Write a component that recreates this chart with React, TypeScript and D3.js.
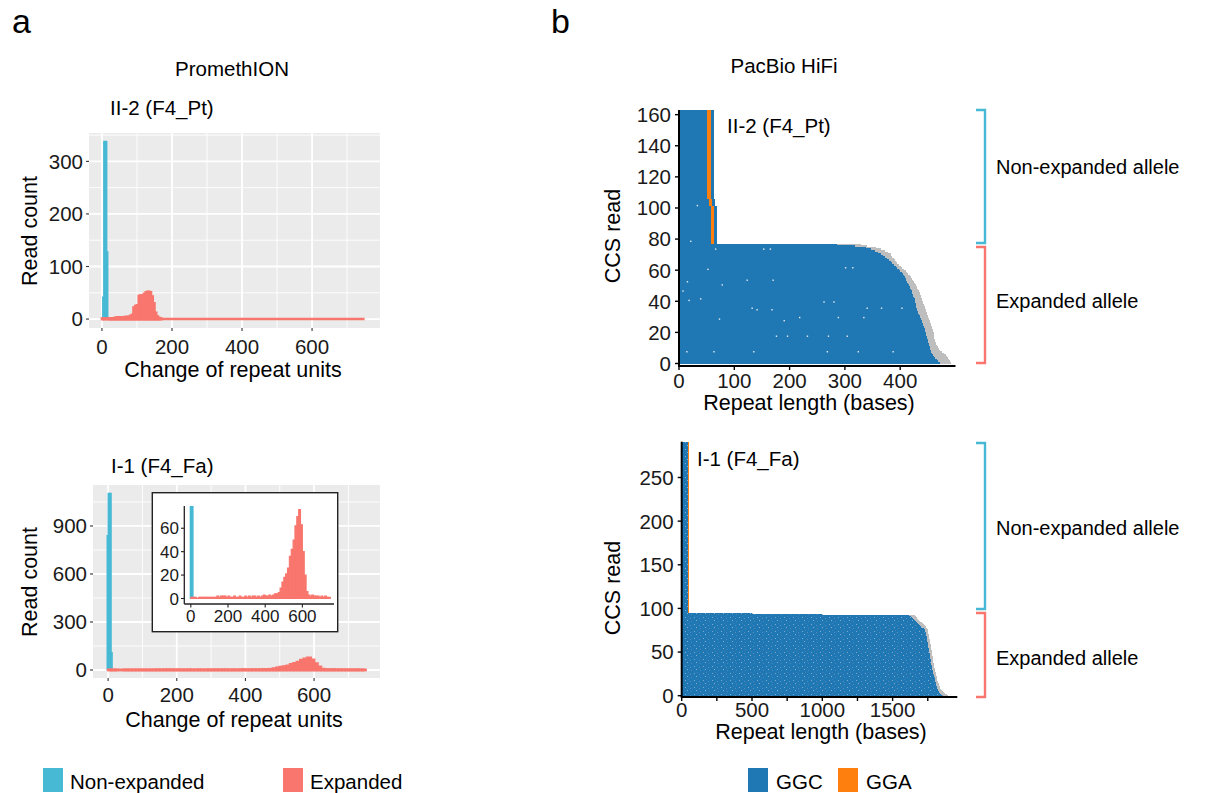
import React from "react";
import * as d3 from "d3";

const FONT = "'Liberation Sans', Arial, Helvetica, sans-serif";
const CYAN = "#47B9D4";
const RED = "#F8766D";
const BLUE = "#1F77B4";
const ORANGE = "#FF7F0E";
const GRAY = "#BEBEBE";
const PANEL_BG = "#EBEBEB";

// ---------------- a: PromethION histograms ----------------
const repeatTicks = [0, 200, 400, 600];
const repeatMinorTicks = [100, 300, 500, 700];
const ptCountTicks = [0, 100, 200, 300];
const ptCountMinor = [50, 150, 250, 350];
const faCountTicks = [0, 300, 600, 900];
const faCountMinor = [150, 450, 750, 1050];
const insetCountTicks = [0, 20, 40, 60];
const histMax = 750;

// II-2 (F4_Pt)
const ptNonExpStart = 2;
const ptNonExpWidth = 3;
const ptNonExpCounts = [42, 338, 338, 338, 128];
const ptExpWidth = 5;
const ptExpCounts = [
  1, 1, 0, 1, 1, 1, 1, 2, 3, 3, 3, 3, 3, 4, 4, 4, 6, 8, 22, 25,
  26, 44, 45, 30, 48, 51, 52, 51, 43, 30, 12, 5, 2, 1,
];

// I-1 (F4_Fa)
const faNonExpStart = -3;
const faNonExpWidth = 3;
const faNonExpCounts = [840, 1104, 1104, 1104, 110];
const faExpWidth = 10;
const faExpCounts = [
  1, 1, 1, 0, 1, 1, 1, 1, 1, 1,
  1, 1, 1, 1, 2, 1, 2, 2, 2, 1,
  2, 1, 1, 2, 1, 1, 2, 1, 1, 2,
  1, 2, 1, 2, 2, 1, 2, 1, 2, 3,
  2, 2, 3, 2, 3, 4, 4, 5, 9, 14,
  18, 21, 26, 36, 42, 50, 62, 70, 76, 63,
  40, 20, 6, 3, 2, 3, 2, 2, 2, 1,
  2, 1, 2, 1, 1,
];

// ---------------- b: PacBio HiFi read plots ----------------
// II-2 (F4_Pt): 163 CCS reads; reads 0..76 expanded (sorted longest first)
const ptReadCount = 163;
const ptLengthTicks = [0, 100, 200, 300, 400];
const ptReadTicks = [0, 20, 40, 60, 80, 100, 120, 140, 160];
const ptGgcEnd = [
  472, 468, 466, 463, 461, 459, 457, 456, 455, 454, 453, 452, 452, 451, 450, 450,
  449, 448, 447, 446, 445, 445, 444, 443, 442, 441, 440, 439, 437, 436, 435, 434,
  433, 432, 431, 430, 429, 428, 428, 427, 426, 426, 425, 424, 423, 422, 421, 420,
  418, 417, 416, 414, 413, 411, 410, 408, 407, 405, 403, 400, 397, 395, 392, 389,
  386, 383, 380, 377, 372, 368, 365, 360, 355, 348, 338, 318, 285,
];
const ptReadEnd = [
  492, 490, 488, 486, 484, 482, 480, 476, 472, 470, 468, 466, 465, 464, 463, 463,
  462, 462, 461, 461, 460, 459, 458, 457, 456, 455, 454, 453, 452, 451, 450, 449,
  448, 447, 446, 445, 444, 443, 442, 441, 440, 439, 438, 437, 436, 435, 434, 433,
  431, 430, 428, 427, 425, 423, 421, 419, 417, 415, 413, 410, 407, 404, 401, 398,
  395, 392, 390, 388, 386, 384, 383, 378, 372, 365, 356, 340, 330,
];
// non-expanded read groups: first read of group, GGA interruption start/end, read end
const ptNonExpFirstRead = [77, 101, 106];
const ptNonExpGgaStart = [57, 54, 51];
const ptNonExpGgaEnd = [63, 60, 57];
const ptNonExpReadEnd = [69, 66, 64];
// scattered mismatches inside the GGC tract (base, read)
const ptMismatchBase = [32, 20, 14, 6, 17, 51, 65, 77, 122, 131, 140, 152, 164, 167, 169, 72, 189, 175, 195, 217, 231, 261, 269, 279, 287, 303, 300, 313, 323, 339, 333, 365, 386, 402, 13, 62, 134, 267, 38];
const ptMismatchRead = [101, 78, 52, 46, 40, 60, 73, 50, 53, 35, 34, 73, 73, 34, 53, 28, 27, 17, 17, 29, 17, 39, 17, 39, 29, 17, 61, 61, 7, 35, 29, 35, 7, 35, 7, 7, 7, 7, 41];

// I-1 (F4_Fa): 291 CCS reads; reads 0..94 expanded
const faReadCount = 291;
const faLengthTicks = [0, 500, 1000, 1500];
const faLengthMinor = [250, 750, 1250, 1750];
const faReadTicks = [0, 50, 100, 150, 200, 250];
const faGgcEnd = [
  1858, 1846, 1838, 1833, 1829, 1826, 1824, 1821, 1818, 1816, 1814, 1812, 1810, 1808, 1807, 1805,
  1804, 1802, 1801, 1799, 1798, 1796, 1795, 1793, 1792, 1790, 1789, 1787, 1786, 1784, 1783, 1782,
  1780, 1779, 1778, 1776, 1775, 1774, 1773, 1772, 1771, 1770, 1769, 1768, 1767, 1766, 1765, 1764,
  1763, 1762, 1761, 1760, 1758, 1757, 1756, 1755, 1754, 1753, 1752, 1751, 1750, 1749, 1748, 1746,
  1745, 1744, 1743, 1742, 1740, 1739, 1737, 1736, 1734, 1732, 1731, 1729, 1724, 1717, 1709, 1701,
  1694, 1688, 1682, 1676, 1670, 1664, 1658, 1652, 1645, 1638, 1630, 1620, 1605, 1000, 500,
];
const faReadEnd = [
  1895, 1885, 1875, 1865, 1858, 1852, 1848, 1844, 1840, 1837, 1834, 1831, 1829, 1827, 1825, 1823,
  1821, 1819, 1818, 1816, 1815, 1813, 1812, 1810, 1809, 1807, 1806, 1804, 1803, 1801, 1800, 1799,
  1797, 1796, 1795, 1793, 1792, 1791, 1790, 1789, 1788, 1787, 1786, 1785, 1784, 1783, 1782, 1781,
  1780, 1779, 1778, 1777, 1776, 1775, 1774, 1773, 1772, 1771, 1770, 1769, 1768, 1767, 1766, 1764,
  1763, 1762, 1761, 1760, 1758, 1757, 1756, 1755, 1753, 1752, 1751, 1750, 1748, 1745, 1740, 1735,
  1728, 1722, 1716, 1710, 1704, 1697, 1690, 1683, 1676, 1670, 1663, 1656, 1645, 1008, 508,
];
const faNonExpFirstRead = [95];
const faNonExpGgaStart = [47];
const faNonExpGgaEnd = [54];
const faNonExpReadEnd = [54];

// ---------------- helpers ----------------
type Bin = { x0: number; x1: number; c: number };
function makeBins(start: number, width: number, counts: number[], padTo?: number): Bin[] {
  const n = padTo !== undefined ? Math.ceil((padTo - start) / width) : counts.length;
  return d3.range(n).map((i) => ({ x0: start + i * width, x1: start + (i + 1) * width, c: counts[i] ?? 0 }));
}

function barPath(b: Bin, x: d3.ScaleLinear<number, number>, y: d3.ScaleLinear<number, number>) {
  const x0 = x(b.x0), x1 = x(b.x1), y0 = y(0), y1 = y(b.c);
  return `M${x0},${y0}H${x1}V${y1}H${x0}Z`;
}

const tickText = { fontFamily: FONT, fontSize: 20.5, fill: "#1a1a1a" } as const;
const titleText = { fontFamily: FONT, fontSize: 21.5, fill: "#000" } as const;

function Bars(props: { bins: Bin[]; x: d3.ScaleLinear<number, number>; y: d3.ScaleLinear<number, number>; color: string; sw: number }) {
  const { bins, x, y, color, sw } = props;
  const nz = bins.filter((b) => b.c > 0);
  return (
    <g>
      <line x1={x(bins[0].x0)} x2={x(bins[bins.length - 1].x1)} y1={y(0)} y2={y(0)} stroke={color} strokeWidth={sw} />
      {nz.map((b, i) => (
        <path key={i} d={barPath(b, x, y)} fill={color} stroke={color} strokeWidth={sw} strokeLinejoin="miter" />
      ))}
    </g>
  );
}

function HistPanel(props: {
  x: d3.ScaleLinear<number, number>;
  y: d3.ScaleLinear<number, number>;
  yTicks: number[];
  yMinor: number[];
  nonExp: Bin[];
  exp: Bin[];
  labelBaseline: number;
  id: string;
}) {
  const { x, y, yTicks, yMinor, nonExp, exp, labelBaseline, id } = props;
  const [x0, x1] = x.range();
  const [yb, yt] = y.range();
  return (
    <g>
      <defs>
        <clipPath id={id}>
          <rect x={x0} y={yt} width={x1 - x0} height={yb - yt} />
        </clipPath>
      </defs>
      <rect x={x0} y={yt} width={x1 - x0} height={yb - yt} fill={PANEL_BG} />
      {yMinor.map((t) => (
        <line key={"ym" + t} x1={x0} x2={x1} y1={y(t)} y2={y(t)} stroke="#fff" strokeWidth={0.9} />
      ))}
      {repeatMinorTicks.map((t) => (
        <line key={"xm" + t} x1={x(t)} x2={x(t)} y1={yt} y2={yb} stroke="#fff" strokeWidth={0.9} />
      ))}
      {yTicks.map((t) => (
        <line key={"yM" + t} x1={x0} x2={x1} y1={y(t)} y2={y(t)} stroke="#fff" strokeWidth={1.8} />
      ))}
      {repeatTicks.map((t) => (
        <line key={"xM" + t} x1={x(t)} x2={x(t)} y1={yt} y2={yb} stroke="#fff" strokeWidth={1.8} />
      ))}
      <g clipPath={`url(#${id})`}>
        <Bars bins={nonExp} x={x} y={y} color={CYAN} sw={1.1} />
        <Bars bins={exp} x={x} y={y} color={RED} sw={2.6} />
      </g>
      {yTicks.map((t) => (
        <g key={"yt" + t}>
          <line x1={x0 - 3} x2={x0} y1={y(t)} y2={y(t)} stroke="#333" strokeWidth={1.1} />
          <text x={x0 - 6} y={y(t)} dy="0.36em" textAnchor="end" {...tickText}>{t}</text>
        </g>
      ))}
      {repeatTicks.map((t) => (
        <g key={"xt" + t}>
          <line x1={x(t)} x2={x(t)} y1={yb} y2={yb + 3} stroke="#333" strokeWidth={1.1} />
          <text x={x(t)} y={labelBaseline} textAnchor="middle" {...tickText}>{t}</text>
        </g>
      ))}
    </g>
  );
}

function ReadPanel(props: {
  x: d3.ScaleLinear<number, number>;
  y: d3.ScaleLinear<number, number>;
  readCount: number;
  ggcEnd: number[];
  readEnd: number[];
  nonFirst: number[];
  nonGgaStart: number[];
  nonGgaEnd: number[];
  nonReadEnd: number[];
  mmBase?: number[];
  mmRead?: number[];
  xTicks: number[];
  xMinor?: number[];
  yTicks: number[];
  axisBottom: number;
  labelBaseline: number;
  ggcFill: string;
}) {
  const { x, y, readCount, ggcEnd, readEnd, nonFirst, nonGgaStart, nonGgaEnd, nonReadEnd, mmBase, mmRead, xTicks, xMinor, yTicks, axisBottom, labelBaseline, ggcFill } = props;
  const rows = d3.range(readCount);
  const [xl, xr] = x.range();
  const yTop = y(readCount);
  const tiles: JSX.Element[] = [];
  rows.forEach((r) => {
    const top = y(r + 1);
    const h = y(r) - y(r + 1);
    if (r < ggcEnd.length) {
      tiles.push(<rect key={"g" + r} x={x(ggcEnd[r])} y={top} width={x(readEnd[r]) - x(ggcEnd[r])} height={h} fill={GRAY} />);
      tiles.push(<rect key={"b" + r} x={x(0)} y={top} width={x(ggcEnd[r]) - x(0)} height={h} fill={ggcFill} />);
    } else {
      let gi = 0;
      for (let k = 0; k < nonFirst.length; k++) if (r >= nonFirst[k]) gi = k;
      tiles.push(<rect key={"b" + r} x={x(0)} y={top} width={x(nonReadEnd[gi]) - x(0)} height={h} fill={ggcFill} />);
      tiles.push(<rect key={"o" + r} x={x(nonGgaStart[gi])} y={top} width={x(nonGgaEnd[gi]) - x(nonGgaStart[gi])} height={h} fill={ORANGE} />);
    }
  });
  return (
    <g>
      <g shapeRendering="crispEdges">{tiles}</g>
      {mmBase && mmRead &&
        mmBase.map((b, i) => (
          <rect key={"m" + i} x={x(b)} y={y(mmRead[i] + 1)} width={1.4} height={1.4} fill="#e8eef5" />
        ))}
      <line x1={xl} x2={xl} y1={yTop} y2={axisBottom} stroke="#000" strokeWidth={2} />
      <line x1={xl - 1} x2={xr} y1={axisBottom} y2={axisBottom} stroke="#000" strokeWidth={2} />
      {yTicks.map((t) => (
        <g key={"yt" + t}>
          <line x1={xl - 4} x2={xl} y1={y(t)} y2={y(t)} stroke="#000" strokeWidth={1.4} />
          <text x={xl - 8} y={y(t)} dy="0.36em" textAnchor="end" {...tickText}>{t}</text>
        </g>
      ))}
      {xTicks.map((t) => (
        <g key={"xt" + t}>
          <line x1={x(t)} x2={x(t)} y1={axisBottom} y2={axisBottom + 4} stroke="#000" strokeWidth={1.4} />
          <text x={x(t)} y={labelBaseline} textAnchor="middle" {...tickText}>{t}</text>
        </g>
      ))}
      {(xMinor || []).map((t) => (
        <line key={"xm" + t} x1={x(t)} x2={x(t)} y1={axisBottom} y2={axisBottom + 4} stroke="#000" strokeWidth={1.4} />
      ))}
    </g>
  );
}

function Bracket({ x, y0, y1, color }: { x: number; y0: number; y1: number; color: string }) {
  return (
    <path d={`M${x - 9},${y0}H${x}V${y1}H${x - 9}`} fill="none" stroke={color} strokeWidth={2.4} />
  );
}

export default function App() {
  // a: scales
  const xPt = d3.scaleLinear().domain([-37, 794]).range([89, 380]);
  const yPt = d3.scaleLinear().domain([-17, 354]).range([328, 133]);
  const xFa = d3.scaleLinear().domain([-44, 792]).range([93, 380]);
  const yFa = d3.scaleLinear().domain([-50, 1156]).range([678, 485]);
  const xIn = d3.scaleLinear().domain([-35, 770]).range([184.3, 334]);
  const yIn = d3.scaleLinear().domain([-4.7, 79]).range([604, 506]);

  const ptNon = makeBins(ptNonExpStart, ptNonExpWidth, ptNonExpCounts);
  const ptExp = makeBins(0, ptExpWidth, ptExpCounts, histMax);
  const faNon = makeBins(faNonExpStart, faNonExpWidth, faNonExpCounts);
  const faExp = makeBins(0, faExpWidth, faExpCounts, histMax);

  // b: scales
  const xR1 = d3.scaleLinear().domain([0, 500]).range([679, 955.5]);
  const yR1 = d3.scaleLinear().domain([0, ptReadCount]).range([363.5, 110]);
  const xR2 = d3.scaleLinear().domain([0, 1960]).range([681.7, 957.3]);
  const yR2 = d3.scaleLinear().domain([0, faReadCount]).range([695.7, 441.7]);

  return (
    <svg width={1210} height={793} style={{ position: "absolute", left: 0, top: 0, background: "#fff" }}>
      <defs>
        <pattern id="speckle" patternUnits="userSpaceOnUse" width={9} height={7}>
          <rect x={0} y={0} width={9} height={7} fill={BLUE} />
          <rect x={1} y={1} width={1} height={1} fill="#7fa7c9" />
          <rect x={6} y={2} width={1} height={1} fill="#5c8fba" />
          <rect x={3} y={4} width={1} height={1} fill="#8aaecb" />
          <rect x={7} y={5} width={1} height={1} fill="#4e86b6" />
          <rect x={4} y={0} width={1} height={1} fill="#3f7db3" />
        </pattern>
      </defs>
      <rect x={0} y={0} width={1210} height={793} fill="#fff" />
      {/* panel letters and headers */}
      <text x={12} y={33} fontFamily={FONT} fontSize={34}>a</text>
      <text x={551} y={33} fontFamily={FONT} fontSize={34}>b</text>
      <text x={232} y={76} textAnchor="middle" {...titleText} fontSize={20.5}>PromethION</text>
      <text x={784} y={73} textAnchor="middle" {...titleText} fontSize={20.5}>PacBio HiFi</text>

      {/* a, top */}
      <text x={110} y={115} {...titleText} fontSize={20.5}>II-2 (F4_Pt)</text>
      <HistPanel x={xPt} y={yPt} yTicks={ptCountTicks} yMinor={ptCountMinor} nonExp={ptNon} exp={ptExp} labelBaseline={354} id="clipPt" />
      <text transform="translate(37,231) rotate(-90)" textAnchor="middle" {...titleText}>Read count</text>
      <text x={233} y={377} textAnchor="middle" {...titleText}>Change of repeat units</text>

      {/* a, bottom */}
      <text x={111} y={473} {...titleText} fontSize={20.5}>I-1 (F4_Fa)</text>
      <HistPanel x={xFa} y={yFa} yTicks={faCountTicks} yMinor={faCountMinor} nonExp={faNon} exp={faExp} labelBaseline={702} id="clipFa" />
      <text transform="translate(37,582) rotate(-90)" textAnchor="middle" {...titleText}>Read count</text>
      <text x={234} y={727} textAnchor="middle" {...titleText}>Change of repeat units</text>

      {/* inset */}
      <rect x={152.3} y={492.7} width={185.4} height={139} fill="#fff" stroke="#222" strokeWidth={1.4} />
      <defs>
        <clipPath id="clipIn">
          <rect x={184.3} y={506} width={150} height={98} />
        </clipPath>
      </defs>
      <g clipPath="url(#clipIn)">
        <Bars bins={faNon} x={xIn} y={yIn} color={CYAN} sw={1.1} />
        <Bars bins={faExp} x={xIn} y={yIn} color={RED} sw={1.1} />
      </g>
      <line x1={184.3} x2={184.3} y1={506} y2={604} stroke="#222" strokeWidth={1.3} />
      <line x1={184.3} x2={334} y1={604} y2={604} stroke="#222" strokeWidth={1.3} />
      {insetCountTicks.map((t) => (
        <g key={"it" + t}>
          <line x1={181} x2={184.3} y1={yIn(t)} y2={yIn(t)} stroke="#222" strokeWidth={1.1} />
          <text x={179} y={yIn(t)} dy="0.36em" textAnchor="end" {...tickText} fontSize={17}>{t}</text>
        </g>
      ))}
      {repeatTicks.map((t) => (
        <g key={"ix" + t}>
          <line x1={xIn(t)} x2={xIn(t)} y1={604} y2={607.5} stroke="#222" strokeWidth={1.1} />
          <text x={xIn(t)} y={622} textAnchor="middle" {...tickText} fontSize={17}>{t}</text>
        </g>
      ))}

      {/* b, top */}
      <ReadPanel
        x={xR1} y={yR1} readCount={ptReadCount}
        ggcEnd={ptGgcEnd} readEnd={ptReadEnd}
        nonFirst={ptNonExpFirstRead} nonGgaStart={ptNonExpGgaStart} nonGgaEnd={ptNonExpGgaEnd} nonReadEnd={ptNonExpReadEnd}
        mmBase={ptMismatchBase} mmRead={ptMismatchRead}
        xTicks={ptLengthTicks} yTicks={ptReadTicks} axisBottom={366} labelBaseline={388}
        ggcFill={BLUE}
      />
      <text x={727} y={133} {...titleText} fontSize={20.5}>II-2 (F4_Pt)</text>
      <text transform="translate(620,236) rotate(-90)" textAnchor="middle" {...titleText}>CCS read</text>
      <text x={809} y={410} textAnchor="middle" {...titleText}>Repeat length (bases)</text>

      {/* b, bottom */}
      <ReadPanel
        x={xR2} y={yR2} readCount={faReadCount}
        ggcEnd={faGgcEnd} readEnd={faReadEnd}
        nonFirst={faNonExpFirstRead} nonGgaStart={faNonExpGgaStart} nonGgaEnd={faNonExpGgaEnd} nonReadEnd={faNonExpReadEnd}
        xTicks={faLengthTicks} xMinor={faLengthMinor} yTicks={faReadTicks} axisBottom={697} labelBaseline={717}
        ggcFill="url(#speckle)"
      />
      <text x={697} y={466} {...titleText} fontSize={20.5}>I-1 (F4_Fa)</text>
      <text transform="translate(620,588) rotate(-90)" textAnchor="middle" {...titleText}>CCS read</text>
      <text x={821} y={739} textAnchor="middle" {...titleText}>Repeat length (bases)</text>

      {/* allele brackets */}
      <Bracket x={985} y0={110} y1={243} color={CYAN} />
      <Bracket x={985} y0={247} y1={363} color={RED} />
      <text x={996} y={174} {...titleText} fontSize={20}>Non-expanded allele</text>
      <text x={996} y={308} {...titleText} fontSize={20}>Expanded allele</text>
      <Bracket x={985} y0={443} y1={609} color={CYAN} />
      <Bracket x={985} y0={613} y1={697} color={RED} />
      <text x={996} y={535} {...titleText} fontSize={20}>Non-expanded allele</text>
      <text x={996} y={665} {...titleText} fontSize={20}>Expanded allele</text>

      {/* legends */}
      <rect x={43} y={768} width={20} height={24} fill={CYAN} />
      <text x={70} y={789} {...titleText} fontSize={20.5}>Non-expanded</text>
      <rect x={283} y={768} width={20} height={24} fill={RED} />
      <text x={310} y={789} {...titleText} fontSize={20.5}>Expanded</text>
      <rect x={748} y={768} width={20} height={24} fill={BLUE} />
      <text x={776} y={789} {...titleText} fontSize={20.5}>GGC</text>
      <rect x={838} y={768} width={20} height={24} fill={ORANGE} />
      <text x={866} y={789} {...titleText} fontSize={20.5}>GGA</text>
    </svg>
  );
}
